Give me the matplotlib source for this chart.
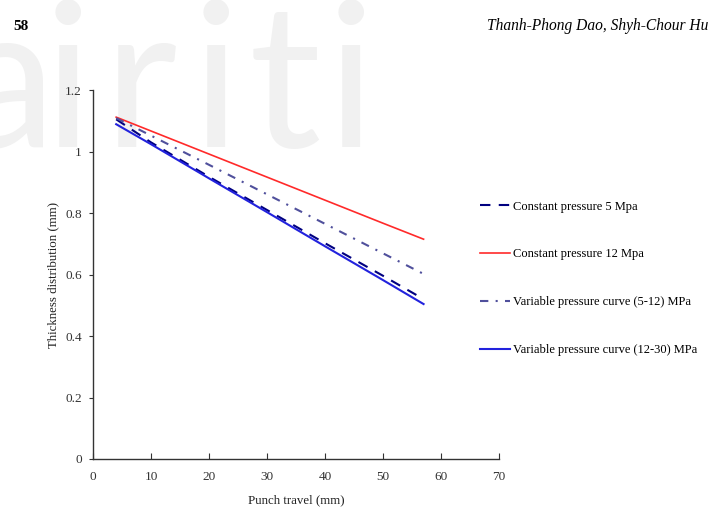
import matplotlib
matplotlib.use("Agg")
import matplotlib.pyplot as plt

plt.rcParams['font.family'] = ['Liberation Serif', 'DejaVu Serif']

# punch travel (mm)
travel = [4, 10, 20, 30, 40, 50, 57]

# thickness distribution (mm)
const_5 = [1.105, 1.030, 0.918, 0.810, 0.702, 0.596, 0.520]
const_12 = [1.112, 1.067, 0.992, 0.917, 0.842, 0.767, 0.715]
var_5_12 = [1.109, 1.052, 0.957, 0.861, 0.765, 0.669, 0.602]
var_12_30 = [1.089, 1.024, 0.913, 0.803, 0.692, 0.582, 0.504]

labels = ['Constant pressure 5 Mpa', 'Constant pressure 12 Mpa',
          'Variable pressure curve (5-12) MPa', 'Variable pressure curve (12-30) MPa']

x_ticks = [0, 10, 20, 30, 40, 50, 60, 70]
y_ticks = [0, 0.2, 0.4, 0.6, 0.8, 1.0, 1.2]
y_ticklabels = ['0', '0.2', '0.4', '0.6', '0.8', '1', '1.2']

fig = plt.figure(figsize=(7.12, 5.30), dpi=100)

# faint watermark behind everything
wm_x = [0.008, 0.095, 0.197, 0.303, 0.400, 0.493]
for ch, xx in zip('airiti', wm_x):
    fig.text(xx, 0.722, ch, family='Lato', fontsize=145, color='#f1f1f1',
             ha='center', va='baseline', zorder=-10)

fig.text(0.018, 0.95, '58', fontsize=11, fontweight='bold', ha='left', va='center')
fig.text(0.684, 0.95, 'Thanh-Phong Dao, Shyh-Chour Hu', fontsize=11.2,
         style='italic', ha='left', va='center')

ax = fig.add_axes([0.1306, 0.134, 0.5702, 0.696])
ax.set_facecolor('none')

ax.plot(travel, const_5, color='#000080', lw=1.5, ls=(0, (5, 4)), label=labels[0])
ax.plot(travel, const_12, color='#ff2a2a', lw=1.2, label=labels[1])
ax.plot(travel, var_5_12, color='#50509c', lw=1.5, ls=(0, (4, 3.5, 1, 3.5)), label=labels[2])
ax.plot(travel, var_12_30, color='#2222dd', lw=1.5, label=labels[3])

ax.set_xlim(0, 70)
ax.set_ylim(0, 1.2)
ax.set_xticks(x_ticks)
ax.set_yticks(y_ticks)
ax.set_yticklabels(y_ticklabels)

for s in ['top', 'right']:
    ax.spines[s].set_visible(False)
for s in ['left', 'bottom']:
    ax.spines[s].set_color('#333333')
    ax.spines[s].set_linewidth(1.0)

ax.tick_params(axis='x', direction='in', length=4, pad=9, labelsize=9.5, colors='#333333')
ax.tick_params(axis='y', direction='out', length=3, pad=5, labelsize=9.5, colors='#333333')

ax.set_xlabel('Punch travel (mm)', fontsize=9.3, labelpad=8, color='#222222')
ax.set_ylabel('Thickness distribution (mm)', fontsize=9.3, labelpad=4, color='#222222')

fig.legend(loc='upper left', bbox_to_anchor=(0.659, 0.6425), frameon=False,
           fontsize=9, handlelength=2.4, handletextpad=0.2, labelspacing=2.86)

fig.savefig('out.png', dpi=100)
